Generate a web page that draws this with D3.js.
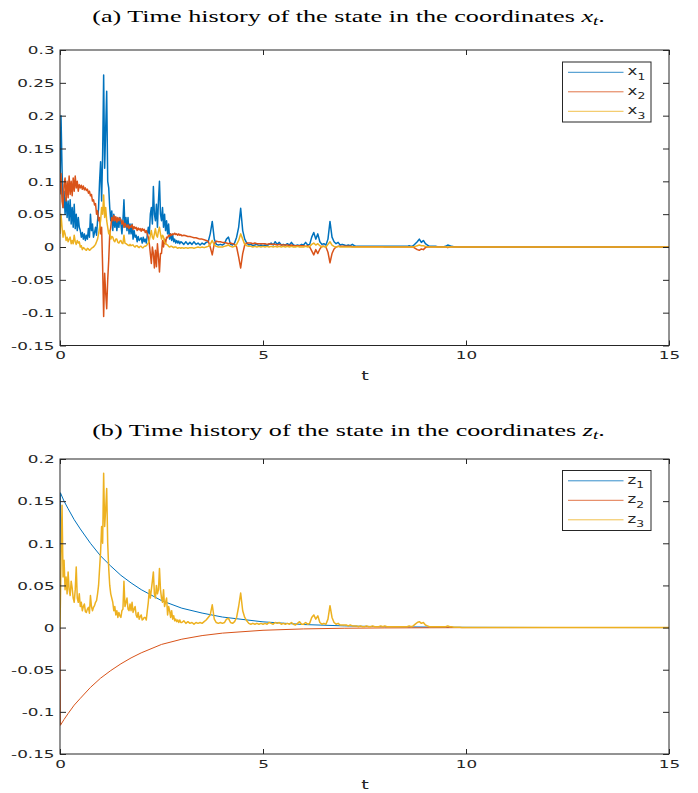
<!DOCTYPE html>
<html>
<head>
<meta charset="utf-8">
<script src="https://cdn.jsdelivr.net/npm/d3@7/dist/d3.min.js"></script>
<style>
  html, body { margin: 0; padding: 0; background: #fff; }
  svg { display: block; }
</style>
</head>
<body>
<div id="chart"></div>
<script>
// ---------------- data ----------------
// noisy series: fine samples on [0, denseEnd), coarser ones from denseEnd to 10, then flat to tEnd
const denseStep = 0.025;
const denseEnd = 3;
const coarseStep = 0.05;
const tEnd = 15;
const tailValue = 0;

const x1Dense = [
  0.09, 0.2, 0.12, 0.06, 0.085, 0.05, 0.075, 0.045, 0.07, 0.04,
  0.072, 0.035, 0.06, 0.03, 0.065, 0.028, 0.05, 0.025, 0.045, 0.03,
  0.025, 0.015, 0.022, 0.012, 0.02, 0.01, 0.018, 0.012, 0.028, 0.015,
  0.05, 0.025, 0.035, 0.015, 0.022, 0.03, 0.018, 0.04, 0.06, 0.1,
  0.13, 0.07, 0.14, 0.262, 0.12, 0.18, 0.237, 0.1, 0.09, 0.06,
  0.04, 0.055, 0.025, 0.05, 0.03, 0.045, 0.025, 0.04, 0.03, 0.045,
  0.035, 0.02, 0.04, 0.072, 0.03, 0.045, 0.025, 0.045, 0.02, 0.035,
  0.02, 0.035, 0.012, 0.025, 0.015, 0.018, 0.008, 0.016, 0.01, 0.012,
  0.014, 0.006, 0.015, 0.008, 0.012, 0.006, 0.018, 0.03, 0.02, 0.05,
  0.06, 0.035, 0.092, 0.05, 0.04, 0.065, 0.03, 0.07, 0.1, 0.05,
  0.04, 0.06, 0.03, 0.05, 0.025, 0.04, 0.02, 0.035, 0.012, 0.02,
  0.01, 0.018, 0.008, 0.012, 0.006, 0.01, 0.006, 0.009, 0.005, 0.008
];
const x1Coarse = [
  0.007, 0.004, 0.008, 0.004, 0.007, 0.004, 0.008, 0.004, 0.006, 0.003,
  0.006, 0.004, 0.007, 0.008, 0.02, 0.039, 0.012, 0.004, 0.003, 0.004,
  0.003, 0.005, 0.012, 0.015, 0.004, 0.003, 0.006, 0.015, 0.03, 0.059,
  0.025, 0.012, 0.006, 0.003, 0.004, 0.002, 0.003, 0.004, 0.002, 0.003,
  0.002, 0.003, 0.002, 0.004, 0.006, 0.003, 0.008, 0.004, 0.007, 0.003,
  0.004, 0.003, 0.005, 0.003, 0.007, 0.003, 0.002, 0.003, 0.002, 0.004,
  0.003, 0.007, 0.003, 0.004, 0.015, 0.022, 0.012, 0.02, 0.008, 0.004,
  0.005, 0.003, 0.012, 0.039, 0.015, 0.008, 0.005, 0.007, 0.003, 0.004,
  0.003, 0.002, 0.003, 0.002, 0.004, 0.002, 0.001, 0.001, 0.001, 0.001,
  0.001, 0.001, 0.001, 0.001, 0.001, 0.001, 0.001, 0.001, 0.001, 0.001,
  0.001, 0.001, 0.001, 0.001, 0.001, 0.001, 0.001, 0.001, 0.001, 0.001,
  0.001, 0.001, 0.002, 0.001, 0.002, 0.005, 0.008, 0.012, 0.007, 0.01,
  0.005, 0.003, 0.001, 0.001, 0.001, 0.001, 0.0005, 0.0005, 0.0005, 0.0005,
  0.001, 0.003, 0.002, 0.001, 0.0005, 0.0005, 0, 0, 0, 0,
  0
];

const x2Dense = [
  0.08, 0.112, 0.07, 0.06, 0.095, 0.105, 0.07, 0.1, 0.075, 0.108,
  0.08, 0.1, 0.078, 0.105, 0.085, 0.108, 0.09, 0.1, 0.085, 0.095,
  0.09, 0.094, 0.088, 0.093, 0.087, 0.09, 0.086, 0.088, 0.082, 0.085,
  0.078, 0.08, 0.07, 0.072, 0.064, 0.066, 0.05, 0.055, 0.04, 0.045,
  0.02, 0.03, -0.03, -0.106, -0.04, -0.07, -0.094, -0.05, -0.02, 0.02,
  0.03, 0.045, 0.04, 0.048, 0.04, 0.046, 0.038, 0.045, 0.04, 0.044,
  0.042, 0.035, 0.04, 0.03, 0.036, 0.033, 0.03, 0.034, 0.028, 0.032,
  0.03, 0.034, 0.027, 0.031, 0.028, 0.03, 0.025, 0.029, 0.026, 0.028,
  0.024, 0.028, 0.025, 0.027, 0.022, 0.025, 0.02, 0.015, 0.005, -0.01,
  -0.025, 0.0, -0.01, -0.032, -0.005, -0.03, 0.005, -0.015, -0.038, -0.01,
  -0.01, 0.01, 0.0, 0.012, 0.005, 0.015, 0.014, 0.018, 0.016, 0.02,
  0.018, 0.02, 0.019, 0.021, 0.019, 0.02, 0.018, 0.02, 0.018, 0.019
];
const x2Coarse = [
  0.017, 0.018, 0.017, 0.016, 0.016, 0.015, 0.014, 0.014, 0.013, 0.012,
  0.012, 0.011, 0.01, 0.009, 0.0, -0.012, 0.005, 0.009, 0.008, 0.008,
  0.007, 0.007, 0.006, 0.005, 0.006, 0.005, 0.004, 0.0, -0.015, -0.032,
  -0.01, 0.003, 0.006, 0.006, 0.006, 0.005, 0.006, 0.005, 0.005, 0.005,
  0.005, 0.005, 0.004, 0.005, 0.004, 0.004, 0.004, 0.003, 0.004, 0.003,
  0.003, 0.003, 0.003, 0.002, 0.003, 0.002, 0.002, 0.002, 0.002, 0.002,
  0.002, 0.001, 0.002, 0.0, -0.006, -0.012, -0.004, -0.01, -0.003, 0.001,
  0.001, 0.0, -0.008, -0.024, -0.01, -0.003, 0.0, 0.001, 0.001, 0.001,
  0.001, 0.001, 0.001, 0.001, 0.0005, 0.0005, 0.0005, 0.0005, 0.0005, 0.0005,
  0.0005, 0.0005, 0.0005, 0.0005, 0.0005, 0.0005, 0.0005, 0.0005, 0.0005, 0.0005,
  0, 0, 0, 0, 0, 0, 0, 0, 0, 0,
  0, 0, 0, 0, 0, -0.002, -0.004, -0.005, -0.003, -0.004,
  -0.001, 0, 0, 0, 0, 0, 0, 0, 0, 0,
  0, -0.001, 0, 0, 0, 0, 0, 0, 0, 0,
  0
];

const x3Dense = [
  0.02, 0.05, 0.03, 0.015, 0.025, 0.02, 0.01, 0.015, 0.008, 0.012,
  0.015, 0.005, 0.01, 0.005, 0.018, 0.008, 0.004, 0.01, 0.006, 0.008,
  0.0, 0.002, -0.004, -0.001, -0.002, -0.004, -0.005, -0.002, -0.003, -0.005,
  -0.004, -0.002, -0.001, 0.0, 0.002, 0.004, 0.008, 0.012, 0.02, 0.03,
  0.04, 0.06, 0.05, 0.079, 0.045, 0.06, 0.04, 0.03, 0.02, 0.025,
  0.012, 0.016, 0.015, 0.01, 0.008, 0.012, 0.012, 0.007, 0.006, 0.009,
  0.01, 0.006, 0.005, 0.018, 0.006, 0.005, 0.004, 0.003, 0.002, 0.004,
  0.002, 0.003, 0.003, 0.001, 0.0, 0.002, 0.002, 0.0, -0.001, 0.001,
  0.001, -0.001, -0.001, 0.001, 0.001, 0.002, 0.004, 0.006, 0.01, 0.018,
  0.025, 0.015, 0.012, 0.02, 0.028, 0.018, 0.015, 0.024, 0.03, 0.02,
  0.012, 0.018, 0.015, 0.008, 0.005, 0.004, 0.003, 0.001, 0.0, 0.001,
  0.001, 0.0, -0.001, 0.0, 0.0, -0.001, -0.002, -0.001, -0.001, -0.002
];
const x3Coarse = [
  -0.001, -0.002, -0.001, -0.002, -0.001, -0.001, -0.002, -0.001, 0.0, -0.001,
  0.0, -0.001, 0.0, 0.001, 0.004, 0.01, 0.003, 0.001, 0.0, 0.0,
  0.0, 0.001, 0.002, 0.003, 0.001, 0.0, 0.001, 0.004, 0.01, 0.02,
  0.012, 0.004, 0.002, 0.001, 0.001, 0.0, 0.001, 0.0, 0.001, 0.0,
  0.001, 0.0, 0.001, 0.0, 0.001, 0.0, 0.001, 0.0, 0.001, 0.0,
  0.001, 0.0, 0.001, 0.0, 0.001, 0.0, 0.0, 0.001, 0.0, 0.0,
  0.0, 0.001, 0.0, 0.001, 0.004, 0.006, 0.003, 0.005, 0.002, 0.0,
  0.001, 0.0, 0.004, 0.008, 0.003, 0.001, 0.0, 0.001, 0.0, 0.0,
  0, 0, 0, 0, 0, 0, 0, 0, 0, 0,
  0, 0, 0, 0, 0, 0, 0, 0, 0, 0,
  0, 0, 0, 0, 0, 0, 0, 0, 0, 0,
  0, 0, 0, 0, 0, 0.001, 0.002, 0.003, 0.002, 0.002,
  0.001, 0, 0, 0, 0, 0, 0, 0, 0, 0,
  0, 0, 0, 0, 0, 0, 0, 0, 0, 0,
  0
];

const z3Dense = [
  0.0, 0.08, 0.145, 0.06, 0.08, 0.045, 0.06, 0.04, 0.066, 0.045,
  0.038, 0.055, 0.047, 0.035, 0.03, 0.045, 0.072, 0.035, 0.03, 0.04,
  0.025, 0.03, 0.02, 0.025, 0.028, 0.019, 0.018, 0.022, 0.024, 0.017,
  0.038, 0.025, 0.02, 0.024, 0.026, 0.03, 0.032, 0.04, 0.05, 0.07,
  0.09, 0.12, 0.1, 0.183, 0.12, 0.14, 0.165, 0.1, 0.07, 0.05,
  0.04, 0.035, 0.03, 0.02, 0.025, 0.015, 0.02, 0.012, 0.018, 0.014,
  0.012, 0.02, 0.022, 0.055, 0.025, 0.03, 0.035, 0.022, 0.02, 0.028,
  0.02, 0.03, 0.018, 0.022, 0.025, 0.015, 0.012, 0.018, 0.01, 0.013,
  0.015, 0.009, 0.01, 0.012, 0.012, 0.009, 0.02, 0.03, 0.045, 0.035,
  0.045, 0.055, 0.066, 0.04, 0.035, 0.05, 0.04, 0.045, 0.07, 0.045,
  0.035, 0.03, 0.045, 0.025, 0.03, 0.035, 0.015, 0.025, 0.02, 0.012,
  0.02, 0.01, 0.014, 0.008, 0.01, 0.007, 0.009, 0.006, 0.009, 0.006
];
const z3Coarse = [
  0.006, 0.008, 0.005, 0.007, 0.005, 0.006, 0.004, 0.006, 0.005, 0.006,
  0.005, 0.007, 0.009, 0.012, 0.015, 0.027, 0.01, 0.006, 0.005, 0.006,
  0.005, 0.006, 0.01, 0.011, 0.006, 0.005, 0.007, 0.012, 0.025, 0.041,
  0.02, 0.012, 0.008, 0.005, 0.004, 0.005, 0.004, 0.005, 0.004, 0.005,
  0.004, 0.005, 0.004, 0.006, 0.005, 0.004, 0.006, 0.005, 0.006, 0.004,
  0.005, 0.004, 0.005, 0.004, 0.006, 0.004, 0.003, 0.005, 0.007, 0.004,
  0.004, 0.006, 0.004, 0.005, 0.012, 0.015, 0.01, 0.014, 0.006, 0.004,
  0.005, 0.004, 0.01, 0.026, 0.012, 0.006, 0.004, 0.005, 0.003, 0.003,
  0.003, 0.003, 0.002, 0.003, 0.002, 0.002, 0.002, 0.001, 0.002, 0.001,
  0.001, 0.002, 0.001, 0.001, 0.002, 0.001, 0.001, 0.001, 0.002, 0.001,
  0.002, 0.001, 0.001, 0.001, 0.001, 0.001, 0.001, 0.001, 0.001, 0.001,
  0.001, 0.001, 0.002, 0.001, 0.002, 0.004, 0.006, 0.007, 0.005, 0.006,
  0.003, 0.002, 0.001, 0.001, 0.001, 0.001, 0.001, 0.001, 0.001, 0.001,
  0.001, 0.002, 0.001, 0.001, 0.0005, 0.0005, 0.0005, 0.0005, 0, 0,
  0
];

// smooth series z1, z2 at irregular times
const zT     = [0, 0.01, 0.1, 0.2, 0.35, 0.5, 0.75, 1, 1.25, 1.5, 1.75, 2, 2.5, 3, 3.5, 4, 5, 6, 7, 8, 10, 12, 15];
const z1Vals = [0.08, 0.16, 0.15, 0.141, 0.128, 0.117, 0.1, 0.085, 0.073, 0.062, 0.053, 0.045, 0.032, 0.023,
                0.0172, 0.0125, 0.0068, 0.0036, 0.002, 0.001, 0.0003, 0.0001, 0];
const z2Vals = [0, -0.116, -0.109, -0.102, -0.092, -0.084, -0.071, -0.06, -0.051, -0.043, -0.036, -0.03,
                -0.02, -0.0138, -0.0095, -0.0066, -0.0032, -0.0016, -0.0008, -0.0004, -0.0001, 0, 0];

const xTicks = [0, 5, 10, 15];
const xLabels = ['0', '5', '10', '15'];
const yTicksA = [-0.15, -0.1, -0.05, 0, 0.05, 0.1, 0.15, 0.2, 0.25, 0.3];
const yLabelsA = ['-0.15', '-0.1', '-0.05', '0', '0.05', '0.1', '0.15', '0.2', '0.25', '0.3'];
const yTicksB = [-0.15, -0.1, -0.05, 0, 0.05, 0.1, 0.15, 0.2];
const yLabelsB = ['-0.15', '-0.1', '-0.05', '0', '0.05', '0.1', '0.15', '0.2'];

const colors = ['#0072BD', '#D95319', '#EDB120'];

// ---------------- layout ----------------
const width = 698, height = 793;
const left = 60, right = 669;
const axisColor = '#262626';
const sansFont = 'DejaVu Sans';
const tickStretch = 1.6;   // the figure's sans text is drawn wide

const svg = d3.select('#chart').append('svg')
    .attr('width', width)
    .attr('height', height);

const x = d3.scaleLinear().domain([0, tEnd]).range([left, right]);

function noisySeries(dense, coarse) {
    return dense.map((v, i) => [i * denseStep, v])
        .concat(coarse.map((v, j) => [denseEnd + j * coarseStep, v]))
        .concat([[tEnd, tailValue]]);
}

function drawPanel(p) {
    const y = d3.scaleLinear().domain(p.yDomain).range([p.bottom, p.top]);
    const g = svg.append('g').attr('class', 'panel-' + p.id);

    // title
    const title = g.append('text')
        .attr('text-anchor', 'middle')
        .style('font-family', 'Liberation Serif, DejaVu Serif, serif')
        .style('font-size', '16.5px')
        .attr('fill', '#000');
    title.append('tspan').text(p.titleText);
    title.append('tspan').style('font-style', 'italic').text(p.titleVar);
    title.append('tspan').style('font-style', 'italic').style('font-size', '12px').attr('dy', 3).text('t');
    title.append('tspan').attr('dy', -3).text('.');
    const tw = title.node().getComputedTextLength();
    title.attr('transform', `translate(348.5,${p.titleY}) scale(${513 / tw},1)`);

    // lines
    const clipId = 'clip-' + p.id;
    g.append('clipPath').attr('id', clipId)
        .append('rect')
        .attr('x', left).attr('y', p.top)
        .attr('width', right - left).attr('height', p.bottom - p.top);

    const line = d3.line().x(d => x(d[0])).y(d => y(d[1]));
    const lines = g.append('g').attr('clip-path', `url(#${clipId})`);
    p.series.forEach((s, i) => {
        lines.append('path')
            .datum(s.data)
            .attr('fill', 'none')
            .attr('stroke', colors[i])
            .attr('stroke-width', s.width)
            .attr('stroke-linejoin', 'round')
            .attr('d', line);
    });

    // axes (ticks point inwards, as in MATLAB)
    const yAxis = g.append('g')
        .attr('transform', `translate(${left},0)`)
        .call(d3.axisLeft(y).tickValues(p.yTicks).tickSize(-6).tickPadding(3.4)
            .tickFormat((d, i) => p.yLabels[i]));
    const yAxisR = g.append('g')
        .attr('transform', `translate(${right},0)`)
        .call(d3.axisRight(y).tickValues(p.yTicks).tickSize(-6).tickFormat(''));
    const xAxis = g.append('g')
        .attr('transform', `translate(0,${p.bottom})`)
        .call(d3.axisBottom(x).tickValues(xTicks).tickSize(-5).tickPadding(6.3)
            .tickFormat((d, i) => xLabels[i]));
    const xAxisT = g.append('g')
        .attr('transform', `translate(0,${p.top})`)
        .call(d3.axisTop(x).tickValues(xTicks).tickSize(-5).tickFormat(''));

    [yAxis, yAxisR, xAxis, xAxisT].forEach(a => {
        a.select('.domain').remove();
        a.selectAll('line').attr('stroke', axisColor);
        a.selectAll('text')
            .attr('fill', axisColor)
            .style('font-family', sansFont)
            .style('font-size', '10.5px');
    });
    yAxis.selectAll('text').attr('dy', '0.36em').attr('transform', `scale(${tickStretch},1)`);
    xAxis.selectAll('text').attr('transform', `scale(${tickStretch},1)`);

    g.append('rect')
        .attr('x', left).attr('y', p.top)
        .attr('width', right - left).attr('height', p.bottom - p.top)
        .attr('fill', 'none')
        .attr('stroke', axisColor)
        .attr('stroke-width', 1);

    // x label
    g.append('text')
        .attr('transform', `translate(365,${p.bottom + 34.5}) scale(${tickStretch},1)`)
        .attr('text-anchor', 'middle')
        .attr('fill', axisColor)
        .style('font-family', sansFont)
        .style('font-size', '12px')
        .text('t');

    // legend
    const lg = g.append('g');
    lg.append('rect')
        .attr('x', 562.5).attr('y', p.legendTop)
        .attr('width', 88.5).attr('height', 60)
        .attr('fill', '#fff')
        .attr('stroke', axisColor)
        .attr('stroke-width', 1);
    p.legendNames.forEach((name, i) => {
        const ly = p.legendTop + 10.3 + i * 19.5;
        lg.append('line')
            .attr('x1', 568).attr('x2', 623.5)
            .attr('y1', ly).attr('y2', ly)
            .attr('stroke', colors[i])
            .attr('stroke-opacity', 0.8)
            .attr('stroke-width', 1);
        const t = lg.append('text')
            .attr('transform', `translate(627.5,${ly + 3}) scale(1.45,1)`)
            .attr('fill', axisColor)
            .style('font-family', sansFont)
            .style('font-size', '11.5px');
        t.append('tspan').text(name);
        t.append('tspan').attr('dy', 4.5).style('font-size', '8.5px').text(String(i + 1));
    });
}

drawPanel({
    id: 'a',
    top: 50, bottom: 345.5,
    yDomain: [-0.15, 0.3],
    yTicks: yTicksA, yLabels: yLabelsA,
    titleText: '(a) Time history of the state in the coordinates ',
    titleVar: 'x',
    titleY: 22,
    legendTop: 62,
    legendNames: ['x', 'x', 'x'],
    series: [
        { data: noisySeries(x1Dense, x1Coarse), width: 1.5 },
        { data: noisySeries(x2Dense, x2Coarse), width: 1.5 },
        { data: noisySeries(x3Dense, x3Coarse), width: 1.5 }
    ]
});

drawPanel({
    id: 'b',
    top: 459, bottom: 754,
    yDomain: [-0.15, 0.2],
    yTicks: yTicksB, yLabels: yLabelsB,
    titleText: '(b) Time history of the state in the coordinates ',
    titleVar: 'z',
    titleY: 436,
    legendTop: 470.5,
    legendNames: ['z', 'z', 'z'],
    series: [
        { data: zT.map((t, i) => [t, z1Vals[i]]), width: 1 },
        { data: zT.map((t, i) => [t, z2Vals[i]]), width: 1 },
        { data: noisySeries(z3Dense, z3Coarse), width: 1.5 }
    ]
});
</script>
</body>
</html>
